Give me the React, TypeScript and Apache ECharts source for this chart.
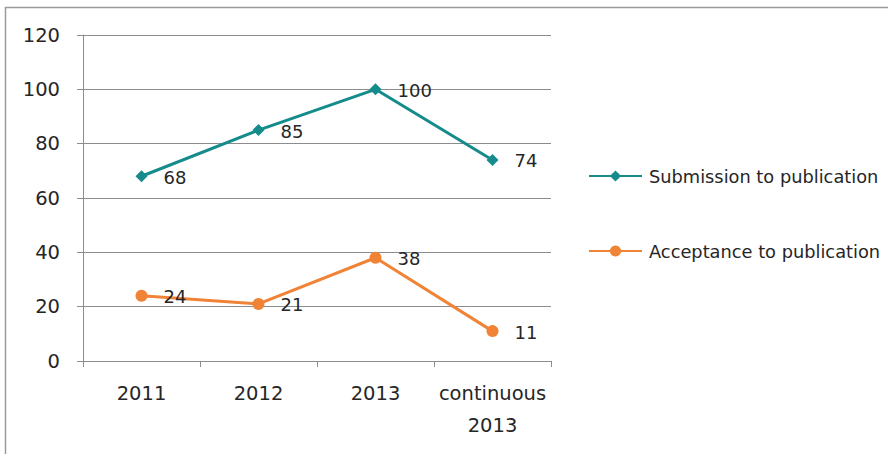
import React, { useEffect, useRef } from "react";
import * as echarts from "echarts";

const categories = ["2011", "2012", "2013", "continuous\n2013"];
const submissionValues = [68, 85, 100, 74];
const acceptanceValues = [24, 21, 38, 11];
const seriesNames = ["Submission to publication", "Acceptance to publication"];

const FONT = "'DejaVu Sans', Verdana, sans-serif";
const TEXT = "#262626";

export default function App() {
  const ref = useRef<HTMLDivElement>(null);
  useEffect(() => {
    document.body.style.margin = "0";
    const chart = echarts.init(ref.current!, null, { renderer: "svg" });
    const labelStyle = {
      show: true,
      position: "right" as const,
      distance: 16,
      offset: [0, 1],
      fontSize: 18,
      fontFamily: FONT,
      color: TEXT,
    };
    chart.setOption({
      animation: false,
      backgroundColor: "#ffffff",
      grid: { left: 83, right: 337, top: 35, bottom: 93 },
      graphic: [
        { type: "line", shape: { x1: 5, y1: 7.5, x2: 888, y2: 7.5 }, style: { stroke: "#9a9a9a", lineWidth: 1.5 } },
        { type: "line", shape: { x1: 5.5, y1: 7, x2: 5.5, y2: 454 }, style: { stroke: "#9a9a9a", lineWidth: 1.5 } },
      ],
      legend: {
        orient: "vertical",
        left: 583,
        top: 162,
        itemGap: 57,
        itemWidth: 53,
        itemHeight: 14,
        textStyle: { fontSize: 17.8, fontFamily: FONT, color: TEXT, padding: [0, 0, 0, 2] },
        data: seriesNames,
      },
      xAxis: {
        type: "category",
        data: categories,
        boundaryGap: true,
        axisLine: { lineStyle: { color: "#8c8c8c", width: 1 } },
        axisTick: { show: true, length: 6, lineStyle: { color: "#8c8c8c" } },
        axisLabel: {
          fontSize: 19.5,
          fontFamily: FONT,
          color: TEXT,
          margin: 16,
          lineHeight: 32,
          interval: 0,
        },
      },
      yAxis: {
        type: "value",
        min: 0,
        max: 120,
        interval: 20,
        axisLine: { show: true, lineStyle: { color: "#8c8c8c", width: 1 } },
        axisTick: { show: true, length: 6, lineStyle: { color: "#8c8c8c" } },
        axisLabel: { fontSize: 19.5, fontFamily: FONT, color: TEXT, margin: 23 },
        splitLine: { lineStyle: { color: "#8c8c8c", width: 1 } },
      },
      series: [
        {
          name: seriesNames[0],
          type: "line",
          data: submissionValues,
          symbol: "diamond",
          symbolSize: 12,
          color: "#168b8c",
          lineStyle: { width: 3, color: "#168b8c" },
          itemStyle: { color: "#168b8c" },
          label: labelStyle,
        },
        {
          name: seriesNames[1],
          type: "line",
          data: acceptanceValues,
          symbol: "circle",
          symbolSize: 12,
          color: "#f08336",
          lineStyle: { width: 3, color: "#f08336" },
          itemStyle: { color: "#f08336" },
          label: labelStyle,
        },
      ],
    });
    return () => chart.dispose();
  }, []);
  return <div ref={ref} style={{ width: 888, height: 454 }} />;
}
